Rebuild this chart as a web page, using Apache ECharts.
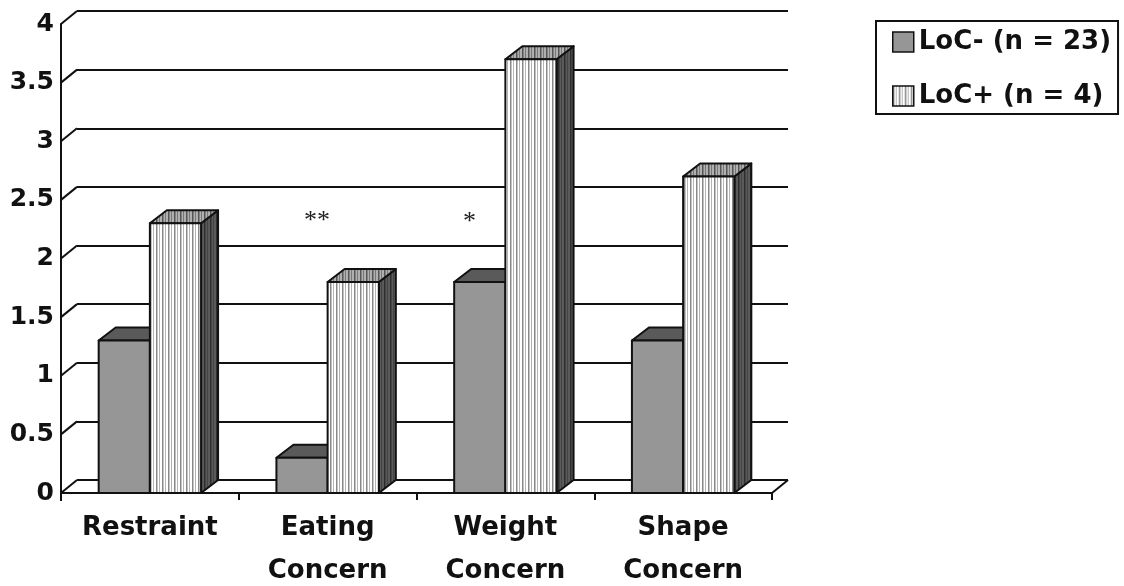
<!DOCTYPE html>
<html>
<head>
<meta charset="utf-8">
<script src="https://cdn.jsdelivr.net/npm/echarts@6/dist/echarts.min.js"></script>
<style>
html, body { margin: 0; padding: 0; background: #fff; }
#chart { width: 1124px; height: 586px; }
</style>
</head>
<body>
<div id="chart"></div>
<script>
// data
var categories = ['Restraint', 'Eating\nConcern', 'Weight\nConcern', 'Shape\nConcern'];
var locMinus = [1.3, 0.3, 1.8, 1.3];
var locPlus = [2.3, 1.8, 3.7, 2.7];
var yTicks = [0, 0.5, 1, 1.5, 2, 2.5, 3, 3.5, 4];
var seriesNames = ['LoC- (n = 23)', 'LoC+ (n = 4)'];

var FONT = '"DejaVu Sans", sans-serif';
var DX = 16, DY = -13;      // depth of the wall
var BDX = 17, BDY = -13;    // depth of the bars

// striped fills
function stripes(bg, line1, line2) {
    var c = document.createElement('canvas');
    c.width = 6; c.height = 6;
    var ctx = c.getContext('2d');
    ctx.fillStyle = bg; ctx.fillRect(0, 0, 6, 6);
    ctx.fillStyle = line1; ctx.fillRect(0, 0, 1.5, 6);
    ctx.fillStyle = line2; ctx.fillRect(3, 0, 1, 6);
    return { image: c, repeat: 'repeat' };
}
var frontStripe = stripes('#ffffff', '#888888', '#b4b4b4');
var topStripe = stripes('#b0b0b0', '#555555', '#777777');
var sideStripe = stripes('#5a5a5a', '#2e2e2e', '#444444');

function barRenderer(side, faces) {
    return function (params, api) {
        var idx = api.value(0);
        var top = api.coord([idx, api.value(1)]);
        var base = api.coord([idx, 0]);
        var band = api.size([1, 0])[0];
        var w = band * 0.288;
        var L = side < 0 ? top[0] - w : top[0];
        var R = L + w;
        var yT = top[1], yB = base[1];
        var stroke = { stroke: '#111', lineWidth: 2, lineJoin: 'round' };
        return {
            type: 'group',
            children: [
                { type: 'polygon', shape: { points: [[R, yT], [R + BDX, yT + BDY], [R + BDX, yB + BDY], [R, yB]] },
                  style: Object.assign({ fill: faces.side }, stroke) },
                { type: 'polygon', shape: { points: [[L, yT], [L + BDX, yT + BDY], [R + BDX, yT + BDY], [R, yT]] },
                  style: Object.assign({ fill: faces.top }, stroke) },
                { type: 'rect', shape: { x: L, y: yT, width: w, height: yB - yT },
                  style: Object.assign({ fill: faces.front }, stroke) }
            ]
        };
    };
}

var myChart = echarts.init(document.getElementById('chart'));
var option = {
    backgroundColor: '#fff',
    animation: false,
    grid: [
        { left: 61, top: 24, width: 711, height: 469, outerBoundsMode: 'none', containLabel: false },
        { left: 61 + DX, top: 24 + DY, width: 711, height: 469, outerBoundsMode: 'none', containLabel: false }
    ],
    legend: {
        orient: 'vertical',
        left: 876,
        top: 21,
        padding: [6, 7, 3, 16],
        itemGap: 24,
        itemWidth: 21,
        itemHeight: 20,
        borderColor: '#111',
        borderWidth: 2,
        icon: 'rect',
        textStyle: { fontFamily: FONT, fontWeight: 'bold', fontSize: 26, color: '#111', lineHeight: 30 },
        data: [
            { name: seriesNames[0], itemStyle: { color: '#969696', borderColor: '#111', borderWidth: 1.5 } },
            { name: seriesNames[1], itemStyle: { color: frontStripe, borderColor: '#111', borderWidth: 1.5 } }
        ]
    },
    xAxis: [
        {
            type: 'category', gridIndex: 0, data: categories,
            axisLine: { lineStyle: { color: '#111', width: 2 } },
            axisTick: { show: true, length: 7, lineStyle: { color: '#111', width: 2 } },
            axisLabel: { fontFamily: FONT, fontWeight: 'bold', fontSize: 26, color: '#111', lineHeight: 43, margin: 14 },
            splitLine: { show: false }
        },
        { type: 'category', gridIndex: 1, data: categories, show: false }
    ],
    yAxis: [
        {
            type: 'value', gridIndex: 0, min: 0, max: 4, interval: 0.5,
            axisLine: { show: true, lineStyle: { color: '#111', width: 2 } },
            axisTick: { show: false },
            axisLabel: { fontFamily: FONT, fontWeight: 'bold', fontSize: 25, color: '#111', margin: 7 },
            splitLine: { show: false }
        },
        {
            type: 'value', gridIndex: 1, min: 0, max: 4, interval: 0.5,
            axisLine: { show: false }, axisTick: { show: false }, axisLabel: { show: false },
            splitLine: { show: true, lineStyle: { color: '#111', width: 2 } }
        }
    ],
    series: [
        {
            // diagonal edges from the front axis to the back wall
            type: 'custom', xAxisIndex: 0, yAxisIndex: 0, z: 1, silent: true, clip: false,
            data: yTicks.map(function (t) { return [0, t]; }),
            renderItem: function (params, api) {
                var v = api.value(1);
                var y = api.coord([0, v])[1];
                var x0 = params.coordSys.x;
                var kids = [{ type: 'line', shape: { x1: x0, y1: y, x2: x0 + DX, y2: y + DY },
                              style: { stroke: '#111', lineWidth: 2 } }];
                if (v === 0) {
                    var x1 = x0 + params.coordSys.width;
                    kids.push({ type: 'line', shape: { x1: x1, y1: y, x2: x1 + DX, y2: y + DY },
                                style: { stroke: '#111', lineWidth: 2 } });
                    kids.push({ type: 'line', shape: { x1: x0, y1: y, x2: x0, y2: y + 8 },
                                style: { stroke: '#111', lineWidth: 2 } });
                }
                return { type: 'group', children: kids };
            }
        },
        {
            name: seriesNames[0], type: 'custom', xAxisIndex: 0, yAxisIndex: 0, z: 3, clip: false,
            itemStyle: { color: '#969696' },
            data: locMinus.map(function (v, i) { return [i, v]; }),
            renderItem: barRenderer(-1, { front: '#969696', top: '#5a5a5a', side: '#4a4a4a' })
        },
        {
            name: seriesNames[1], type: 'custom', xAxisIndex: 0, yAxisIndex: 0, z: 4, clip: false,
            itemStyle: { color: '#dddddd' },
            data: locPlus.map(function (v, i) { return [i, v]; }),
            renderItem: barRenderer(1, { front: frontStripe, top: topStripe, side: sideStripe })
        }
    ],
    graphic: [
        { type: 'text', left: 304, top: 208, style: { text: '**', font: '26px "Liberation Serif", serif', fill: '#222' } },
        { type: 'text', left: 463, top: 209, style: { text: '*', font: '26px "Liberation Serif", serif', fill: '#222' } }
    ]
};
myChart.setOption(option);
window.addEventListener('resize', () => {
    myChart.resize();
});
</script>
</body>
</html>
